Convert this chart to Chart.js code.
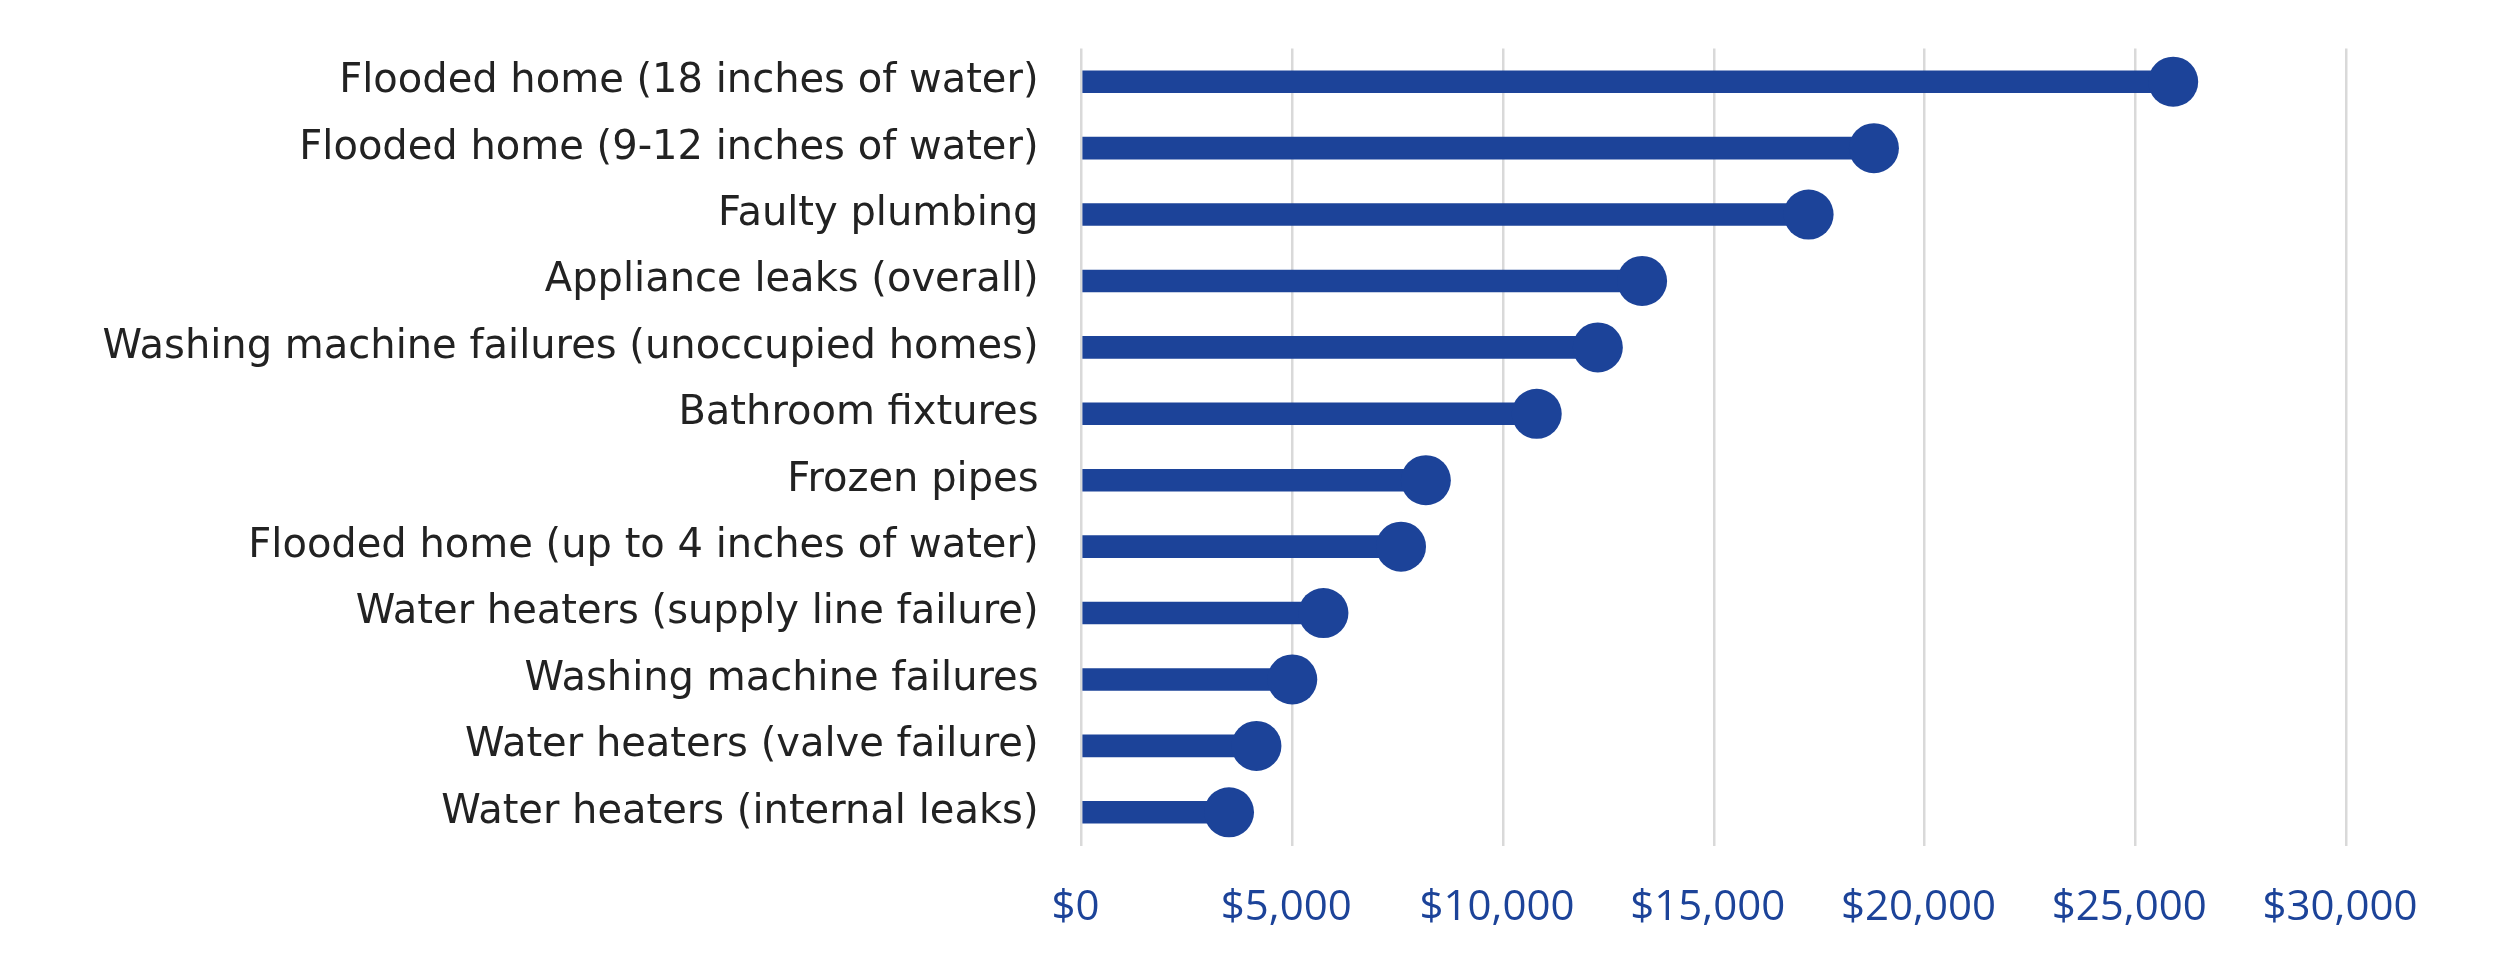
<!DOCTYPE html>
<html lang="en">

<head>
    <meta charset="UTF-8">
    <title>Water damage claim costs</title>
    <script src="https://cdn.jsdelivr.net/npm/chart.js"></script>
    <style>
        html,
        body {
            margin: 0;
            padding: 0;
            width: 100%;
            height: 100%;
            overflow: hidden;
            background: #ffffff;
        }

        #wrap {
            position: relative;
            width: 2500px;
            height: 966px;
        }
    </style>
</head>

<body>
    <div id="wrap">
        <canvas id="costChart"></canvas>
    </div>

    <script>
        // categories, top to bottom
        const categories = [
            'Flooded home (18 inches of water)',
            'Flooded home (9-12 inches of water)',
            'Faulty plumbing',
            'Appliance leaks (overall)',
            'Washing machine failures (unoccupied homes)',
            'Bathroom fixtures',
            'Frozen pipes',
            'Flooded home (up to 4 inches of water)',
            'Water heaters (supply line failure)',
            'Washing machine failures',
            'Water heaters (valve failure)',
            'Water heaters (internal leaks)'
        ];

        // average cost in dollars
        const costs = [25900, 18800, 17250, 13300, 12250, 10800, 8170, 7580, 5740, 5000, 4150, 3500];

        // x axis ticks
        const tickValues = [0, 5000, 10000, 15000, 20000, 25000, 30000];

        const blue = '#1c4399';

        const costChart = new Chart(document.getElementById('costChart'), {
            type: 'bar',
            data: {
                labels: categories,
                datasets: [{
                    type: 'line',
                    indexAxis: 'y',
                    data: costs,
                    showLine: false,
                    pointRadius: 25,
                    pointHoverRadius: 25,
                    pointBorderWidth: 0,
                    pointBackgroundColor: blue,
                    pointBorderColor: blue,
                    clip: false,
                    order: 0
                }, {
                    type: 'bar',
                    indexAxis: 'y',
                    data: costs,
                    backgroundColor: blue,
                    barThickness: 22,
                    borderWidth: 0,
                    order: 1
                }]
            },
            options: {
                indexAxis: 'y',
                responsive: true,
                maintainAspectRatio: false,
                animation: false,
                layout: {
                    autoPadding: false,
                    padding: { top: 48.5, right: 154, bottom: 0, left: 0 }
                },
                plugins: {
                    legend: { display: false },
                    tooltip: { enabled: false }
                },
                scales: {
                    x: {
                        type: 'linear',
                        min: 0,
                        max: 30000,
                        afterBuildTicks: axis => {
                            axis.ticks = tickValues.map(v => ({ value: v }));
                        },
                        afterFit: axis => { axis.height = 120.5; },
                        border: { display: false },
                        grid: {
                            color: '#d9d9d9',
                            lineWidth: 2.5,
                            drawTicks: false
                        },
                        ticks: {
                            padding: 37,
                            labelOffset: -6,
                            color: blue,
                            font: { family: 'Open Sans', size: 42 },
                            callback: v => '$' + v.toLocaleString('en-US')
                        }
                    },
                    y: {
                        // fixed label column; labels sit inside their bands so no extra top padding
                        afterFit: axis => {
                            axis.width = 1081.5;
                            axis.paddingTop = 0;
                            axis.paddingBottom = 0;
                        },
                        border: { display: false },
                        grid: { display: false, drawTicks: false },
                        ticks: {
                            padding: 43,
                            color: '#222222',
                            font: { family: 'DejaVu Sans', size: 40 }
                        }
                    }
                }
            }
        });
    </script>
</body>

</html>
